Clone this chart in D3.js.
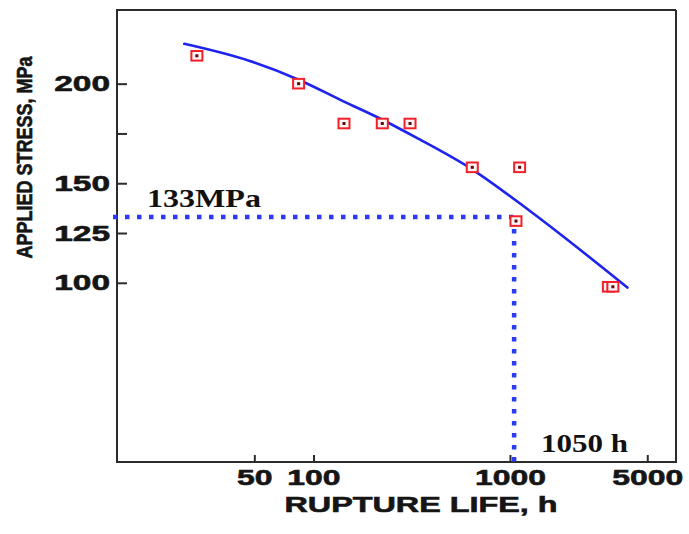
<!DOCTYPE html>
<html>
<head>
<meta charset="utf-8">
<script src="https://cdn.jsdelivr.net/npm/d3@7"></script>
<style>
  html, body { margin: 0; padding: 0; background: #fff; }
  svg { display: block; }
</style>
</head>
<body>
<svg id="chart" width="689" height="534"></svg>
<script>
// Creep rupture data: applied stress (MPa) against rupture life (h)
const lifeTicks = [50, 100, 1000, 5000];
const lifeTickLabels = ["50", "100", "1000", "5000"];
const stressTicks = [100, 125, 150, 175, 200];
const stressTickLabels = ["100", "125", "150", "", "200"];

// measured test specimens
const testLife   = [25.5, 84, 143, 224, 310, 643, 1120, 1073, 3170, 3340];
const testStress = [214, 200, 180, 180, 180, 158, 158, 131, 98, 98];

// fitted rupture curve
const fitLife   = [22, 47, 84, 143, 223, 332, 641, 1294, 3960];
const fitStress = [220, 211.5, 202, 191, 182, 173, 157, 135.3, 97.6];

// design reading
const refStress = 133;
const refLife = 1050;
const refStressLabel = "133MPa";
const refLifeLabel = "1050 h";

const svg = d3.select("#chart");
const plotLeft = 117, plotRight = 676, plotTop = 10, plotBottom = 462;

const x = d3.scaleLog().domain([10, 7000]).range([plotLeft, plotRight]);
const y = d3.scaleLinear().domain([10, 237]).range([plotBottom, plotTop]);

const frameColor = "#2b2b2b";
const textColor = "#151515";
const sans = "'Liberation Sans', Arial, Helvetica, sans-serif";
const serif = "'Liberation Serif', 'Times New Roman', serif";

// widen a text element horizontally by a factor, keeping its anchor
function stretch(sel, factor) {
  sel.each(function () {
    const w = this.getComputedTextLength();
    d3.select(this).attr("textLength", w * factor).attr("lengthAdjust", "spacingAndGlyphs");
  });
}

// heavy sans label style
function heavy(sel, size) {
  sel.attr("font-family", sans).attr("font-weight", "bold").attr("font-size", size)
    .attr("fill", textColor).attr("stroke", textColor).attr("stroke-width", 0.6);
}

// frame: top and right edges
svg.append("line").attr("x1", plotLeft).attr("x2", plotRight).attr("y1", plotTop).attr("y2", plotTop)
  .attr("stroke", frameColor).attr("stroke-width", 2);
svg.append("line").attr("x1", plotRight).attr("x2", plotRight).attr("y1", plotTop).attr("y2", plotBottom)
  .attr("stroke", frameColor).attr("stroke-width", 2);

// x axis
const xAxis = d3.axisBottom(x)
  .tickValues(lifeTicks)
  .tickFormat((d, i) => lifeTickLabels[i])
  .tickSizeInner(-7)
  .tickSizeOuter(0)
  .tickPadding(7);
const gx = svg.append("g").attr("transform", `translate(0,${plotBottom})`).call(xAxis);
gx.select(".domain").attr("stroke", frameColor).attr("stroke-width", 2)
  .attr("d", `M${plotLeft - 1},0H${plotRight + 1}`);
gx.selectAll(".tick line").attr("stroke", frameColor).attr("stroke-width", 2);
gx.selectAll(".tick text").call(heavy, 22).call(stretch, 1.45);

// y axis
const yAxis = d3.axisLeft(y)
  .tickValues(stressTicks)
  .tickFormat((d, i) => stressTickLabels[i])
  .tickSizeInner(-10)
  .tickSizeOuter(0)
  .tickPadding(7);
const gy = svg.append("g").attr("transform", `translate(${plotLeft},0)`).call(yAxis);
gy.select(".domain").attr("stroke", frameColor).attr("stroke-width", 2)
  .attr("d", `M0,${plotTop - 1}V${plotBottom + 1}`);
gy.selectAll(".tick line").attr("stroke", frameColor).attr("stroke-width", 2);
gy.selectAll(".tick text").call(heavy, 22).call(stretch, 1.52);

// axis titles
svg.append("text")
  .attr("x", 421).attr("y", 511.5)
  .attr("text-anchor", "middle")
  .call(heavy, 22)
  .text("RUPTURE LIFE, h")
  .call(stretch, 1.47);

svg.append("text")
  .attr("transform", "translate(31.5,157.5) rotate(-90)")
  .attr("text-anchor", "middle")
  .call(heavy, 22)
  .text("APPLIED STRESS, MPa")
  .attr("textLength", 202).attr("lengthAdjust", "spacingAndGlyphs");

// dotted reading lines
const dotColor = "#2a3af5";
svg.append("line")
  .attr("x1", plotLeft - 4).attr("x2", x(refLife))
  .attr("y1", y(refStress)).attr("y2", y(refStress))
  .attr("stroke", dotColor).attr("stroke-width", 4.5)
  .attr("stroke-dasharray", "4.5 7.5");
svg.append("line")
  .attr("x1", x(refLife)).attr("x2", x(refLife))
  .attr("y1", y(refStress)).attr("y2", plotBottom)
  .attr("stroke", dotColor).attr("stroke-width", 4.5)
  .attr("stroke-dasharray", "4.5 7.5");

// fitted curve
const fit = fitLife.map((d, i) => [d, fitStress[i]]);
svg.append("path")
  .datum(fit)
  .attr("fill", "none")
  .attr("stroke", "#1f23ee")
  .attr("stroke-width", 2.6)
  .attr("stroke-linecap", "round")
  .attr("d", d3.line().x(d => x(d[0])).y(d => y(d[1])).curve(d3.curveMonotoneX));

// test points
const pts = testLife.map((d, i) => [d, testStress[i]]);
const pg = svg.append("g").selectAll("g").data(pts).join("g")
  .attr("transform", d => `translate(${x(d[0])},${y(d[1])})`);
pg.append("rect")
  .attr("x", -5.5).attr("y", -4.8).attr("width", 11).attr("height", 9.6)
  .attr("fill", "#fff4f4").attr("stroke", "#f2202a").attr("stroke-width", 2);
pg.append("rect")
  .attr("x", -1.5).attr("y", -1.5).attr("width", 3).attr("height", 3)
  .attr("fill", "#5c0a0a");

// annotation labels
svg.append("text")
  .attr("x", 147).attr("y", 207)
  .attr("font-family", serif).attr("font-weight", "bold").attr("font-size", 25)
  .attr("fill", "#111")
  .text(refStressLabel)
  .attr("textLength", 114).attr("lengthAdjust", "spacingAndGlyphs");

svg.append("text")
  .attr("x", x(refLife) + 27).attr("y", 451.5)
  .attr("font-family", serif).attr("font-weight", "bold").attr("font-size", 26)
  .attr("fill", "#111")
  .text(refLifeLabel)
  .attr("textLength", 87).attr("lengthAdjust", "spacingAndGlyphs");
</script>
</body>
</html>
